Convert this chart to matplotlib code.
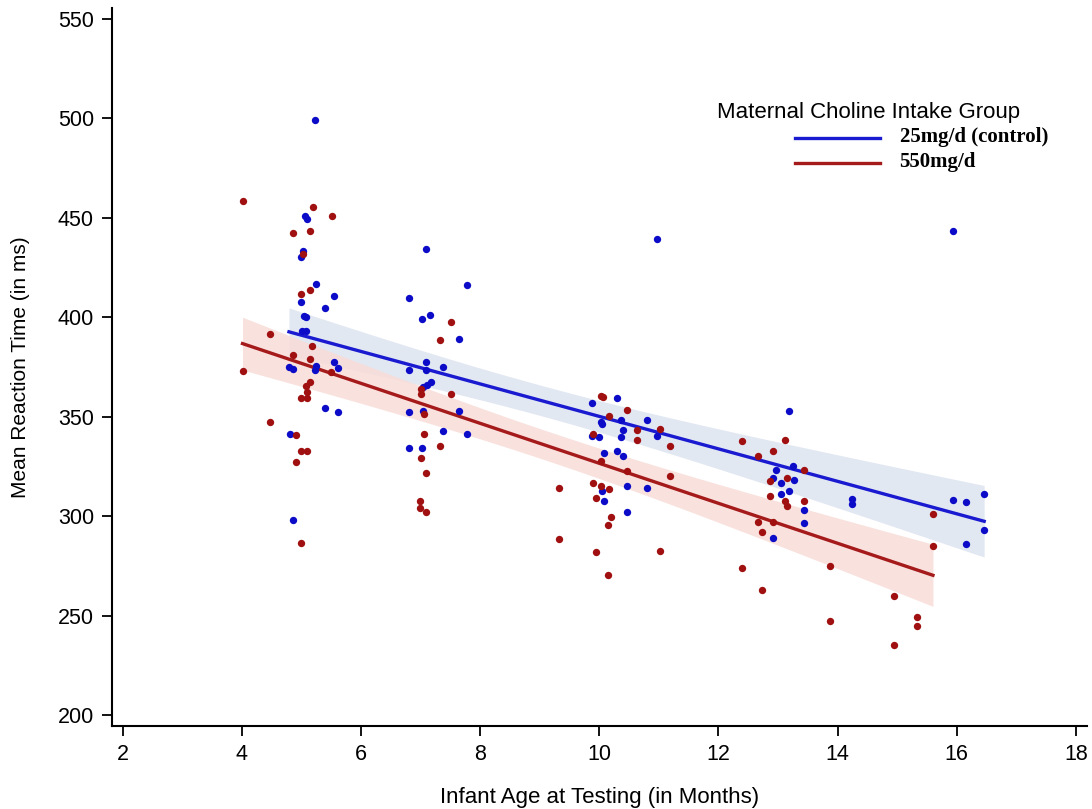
import numpy as np
import matplotlib
matplotlib.use("Agg")
import matplotlib.pyplot as plt

plt.rcParams['font.family'] = ['Liberation Sans', 'DejaVu Sans']

# Donnees : age (mois) et temps de reaction (ms)
ctrl_age = [5.22, 5.06, 5.09, 5.02, 4.99, 5.25, 5.55, 4.99, 5.39, 5.04,
            5.07, 5.01, 5.07, 4.79, 4.86, 5.25, 5.23, 5.54, 5.61, 5.39,
            5.61, 4.80, 4.86,
            7.09, 7.78, 6.80, 7.03, 7.15, 7.65, 7.09, 6.80, 7.09, 7.38,
            7.17, 7.10, 7.04, 6.80, 7.04, 7.65, 7.38, 7.78, 6.80, 7.03,
            10.30, 9.88, 10.02, 10.05, 10.36, 10.80, 10.40, 9.88, 10.00, 10.36,
            10.96, 10.07, 10.30, 10.40, 10.05, 10.47, 10.80, 10.07, 10.46, 10.97,
            13.19, 13.25, 12.97, 12.92, 13.26, 13.05, 13.19, 13.05, 13.43, 13.43,
            12.92, 14.24, 14.24,
            16.46, 15.94, 16.15, 16.46, 16.15, 15.93]
ctrl_rt = [499.1, 450.8, 449.4, 433.5, 430.2, 416.6, 410.6, 407.9, 404.5, 400.5,
           400.0, 393.0, 393.0, 374.9, 374.0, 375.7, 373.5, 377.4, 374.5, 354.3,
           352.2, 341.3, 298.1,
           434.2, 416.4, 409.5, 399.0, 401.0, 389.3, 377.7, 373.5, 373.5, 375.0,
           367.6, 366.0, 364.8, 352.2, 353.0, 353.0, 342.9, 341.2, 334.1, 334.1,
           359.4, 356.9, 347.2, 346.4, 348.5, 348.5, 343.5, 340.5, 339.7, 340.0,
           340.5, 331.8, 332.6, 330.4, 312.8, 315.4, 314.2, 307.8, 302.0, 439.2,
           353.1, 325.4, 323.4, 319.2, 318.4, 316.6, 312.9, 311.2, 303.3, 296.6,
           288.9, 308.7, 306.2,
           311.3, 308.3, 307.0, 293.0, 286.0, 443.4]

chol_age = [4.01, 5.19, 5.52, 4.86, 5.15, 5.03, 4.99, 5.15, 4.47, 5.18,
            4.86, 5.15, 4.01, 5.50, 5.15, 5.07, 5.09, 4.99, 5.10, 4.47,
            4.90, 4.99, 5.10, 4.90, 4.99,
            7.51, 7.32, 7.00, 7.00, 7.51, 7.05, 7.05, 7.32, 7.00, 7.09,
            6.99, 6.99, 7.09,
            10.02, 10.06, 10.46, 10.17, 10.63, 11.02, 9.90, 10.63, 11.18, 10.03,
            10.46, 11.18, 9.32, 9.90, 10.02, 10.17, 9.95, 10.20, 10.14, 9.32,
            9.95, 11.02, 10.14,
            12.39, 13.12, 12.66, 12.92, 13.43, 12.86, 13.15, 12.86, 13.12, 13.15,
            13.43, 12.66, 12.92, 12.73, 12.39, 13.87, 12.73, 13.87,
            15.60, 15.60, 14.95, 15.34, 15.34, 14.95]
chol_rt = [458.6, 455.6, 450.8, 442.3, 443.6, 431.8, 411.7, 413.7, 391.5, 385.8,
           381.2, 379.0, 373.2, 372.7, 367.3, 365.3, 362.3, 359.3, 359.3, 347.2,
           340.8, 332.8, 332.8, 327.4, 286.4,
           397.6, 388.5, 364.0, 361.5, 361.5, 351.4, 341.2, 335.5, 329.3, 321.7,
           307.8, 304.1, 302.3,
           360.3, 360.0, 353.6, 350.6, 343.5, 343.9, 341.3, 338.3, 335.5, 327.9,
           322.9, 320.4, 314.2, 316.7, 315.4, 313.7, 309.2, 299.5, 295.6, 288.6,
           281.8, 282.7, 270.4,
           337.7, 338.3, 330.5, 332.6, 323.2, 317.9, 319.2, 310.0, 307.5, 305.3,
           307.5, 297.3, 297.3, 291.9, 273.9, 274.8, 262.9, 247.2,
           301.1, 285.2, 259.7, 249.5, 244.7, 235.2]

groups = [
    ("25mg/d (control)", ctrl_age, ctrl_rt, "#0b0bc8", "#1a1ad0", "#dde4f0"),
    ("550mg/d", chol_age, chol_rt, "#a01010", "#a51a1a", "#f8dcd8"),
]

fig = plt.figure(figsize=(10.92, 8.09), dpi=100)
ax = fig.add_axes([0.1026, 0.1026, 0.8925, 0.8875])

for label, xs, ys, c_pt, c_line, c_band in groups:
    x = np.array(xs)
    y = np.array(ys)
    n = len(x)
    b, a = np.polyfit(x, y, 1)
    xx = np.linspace(x.min(), x.max(), 100)
    yy = a + b * xx
    resid = y - (a + b * x)
    s = np.sqrt(np.sum(resid ** 2) / (n - 2))
    sxx = np.sum((x - x.mean()) ** 2)
    se = s * np.sqrt(1.0 / n + (xx - x.mean()) ** 2 / sxx)
    ax.fill_between(xx, yy - 1.99 * se, yy + 1.99 * se, color=c_band,
                    alpha=0.85, lw=0, zorder=1)
    ax.scatter(x, y, s=28, color=c_pt, lw=0, zorder=3)
    ax.plot(xx, yy, color=c_line, lw=2.4, zorder=2)

ax.set_xlim(1.82, 18.18)
ax.set_ylim(194.5, 555.5)
ax.set_xticks(range(2, 19, 2))
ax.set_yticks(range(200, 551, 50))

for side in ['top', 'right']:
    ax.spines[side].set_visible(False)
for side in ['left', 'bottom']:
    ax.spines[side].set_linewidth(1.5)
ax.tick_params(direction='out', length=7, width=1.3, labelsize=15.5, pad=6)

ax.set_xlabel("Infant Age at Testing (in Months)", fontsize=16, labelpad=16)
ax.set_ylabel("Mean Reaction Time (in ms)", fontsize=15, labelpad=20)

# Legende dessinee a la main (titre decale a gauche des entrees)
ax.text(0.6205, 0.855, "Maternal Choline Intake Group", transform=ax.transAxes,
        fontsize=16, va='center', ha='left')
for i, (label, xs, ys, c_pt, c_line, c_band) in enumerate(groups):
    yl = 0.819 - i * 0.035
    ax.plot([0.7005, 0.7877], [yl, yl], transform=ax.transAxes,
            color=c_line, lw=2.4)
    ax.text(0.808, yl + 0.002, label, transform=ax.transAxes, fontsize=15,
            va='center', ha='left', fontweight='bold',
            family=['Liberation Serif', 'DejaVu Serif'])

fig.savefig("out.png", dpi=100)
